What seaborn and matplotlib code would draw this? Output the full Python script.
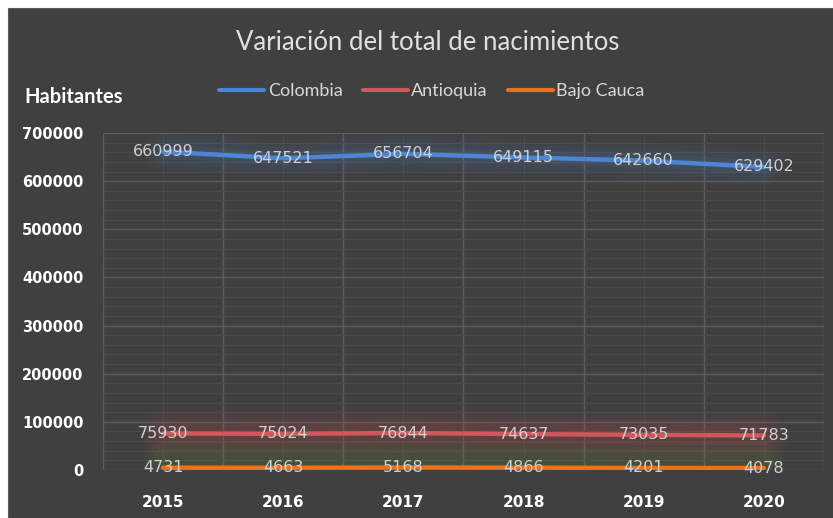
import pandas as pd
import numpy as np
import seaborn as sns
import matplotlib.pyplot as plt
from matplotlib.patches import Rectangle

# chart values
years = [2015, 2016, 2017, 2018, 2019, 2020]
colombia = [660999, 647521, 656704, 649115, 642660, 629402]
antioquia = [75930, 75024, 76844, 74637, 73035, 71783]
bajo_cauca = [4731, 4663, 5168, 4866, 4201, 4078]
series_names = ['Colombia', 'Antioquia', 'Bajo Cauca']

df = pd.DataFrame({
    'Año': years * 3,
    'Nacimientos': colombia + antioquia + bajo_cauca,
    'Serie': [n for n in series_names for _ in years],
})

colors = {'Colombia': '#4a86d4', 'Antioquia': '#d0575b', 'Bajo Cauca': '#ed7119'}
glow = {'Colombia': '#4a86d4', 'Antioquia': '#c84a4e', 'Bajo Cauca': '#6a9a30'}

sns.set_theme(style='dark')
plt.rcParams['font.family'] = ['DejaVu Sans']
narrow = ['Lato', 'DejaVu Sans']

fig = plt.figure(figsize=(8.33, 5.18), dpi=100, facecolor='white')
# dark chart panel
fig.patches.append(Rectangle((8 / 833, 0), 1, 1 - 8 / 518, transform=fig.transFigure,
                             facecolor='#404040', edgecolor='#5a5a5a', lw=0.8, zorder=-5))

ax = fig.add_axes([103 / 833, 1 - 470 / 518, (824 - 103) / 833, (470 - 133) / 518])
ax.set_facecolor('#404040')

# soft glow behind the lines
glow_layers = {'Colombia': [(26, 0.05), (18, 0.07), (10, 0.10)],
               'Antioquia': [(34, 0.06), (24, 0.08), (14, 0.10)],
               'Bajo Cauca': [(26, 0.07), (16, 0.09)]}
for name, vals in zip(series_names, [colombia, antioquia, bajo_cauca]):
    shift = 16000 if name == 'Bajo Cauca' else 0
    for lw, a in glow_layers[name]:
        ax.plot(years, np.array(vals) + shift, color=glow[name],
                lw=lw, alpha=a, solid_capstyle='round', zorder=1)

sns.lineplot(data=df, x='Año', y='Nacimientos', hue='Serie', palette=colors,
             linewidth=3.2, ax=ax, legend=False, zorder=3)

# data labels
for vals in [colombia, antioquia, bajo_cauca]:
    for x, v in zip(years, vals):
        ax.text(x, v, str(v), ha='center', va='center', fontsize=11.5,
                color='#d0d0d0', zorder=4)

ax.set_xlim(2014.5, 2020.5)
ax.set_ylim(0, 700000)
ax.set_xticks(np.arange(2014.5, 2021, 1))
ax.set_xticklabels([])
ax.set_xticks(years, minor=True)
ax.set_xticklabels([str(y) for y in years], minor=True)
ax.set_yticks(np.arange(0, 700001, 100000))
ax.set_yticks(np.arange(0, 700001, 20000), minor=True)
ax.tick_params(axis='x', which='both', length=0)
ax.tick_params(axis='x', which='minor', pad=18, labelsize=11, labelcolor='white')
ax.tick_params(axis='y', which='both', length=0, pad=14, labelsize=10.5, labelcolor='white')
for lab in ax.get_xticklabels(minor=True) + ax.get_yticklabels():
    lab.set_fontweight('bold')

ax.grid(which='major', color='#5c5c5c', lw=1.0)
ax.grid(which='minor', color='#4a4a4a', lw=0.8)
ax.set_axisbelow(True)
for s in ax.spines.values():
    s.set_visible(False)
ax.set_xlabel('')
ax.set_ylabel('')

fig.text(428 / 833, 1 - 42 / 518, 'Variación del total de nacimientos', ha='center', va='center',
         fontsize=18.5, color='#e0e0e0', family=narrow)
fig.text(24 / 833, 1 - 97 / 518, 'Habitantes', ha='left', va='center',
         fontsize=14.5, color='white', fontweight='bold', family=narrow)

# legend
handles = [plt.Line2D([], [], color=colors[n], lw=3) for n in series_names]
fig.legend(handles, series_names, loc='center', bbox_to_anchor=(432 / 833, 1 - 91 / 518),
           ncol=3, frameon=False, handlelength=2.5, handletextpad=0.2, columnspacing=1.1,
           prop={'family': narrow, 'size': 13}, labelcolor='#d9d9d9')

fig.savefig('out.png', dpi=100, facecolor=fig.get_facecolor())
